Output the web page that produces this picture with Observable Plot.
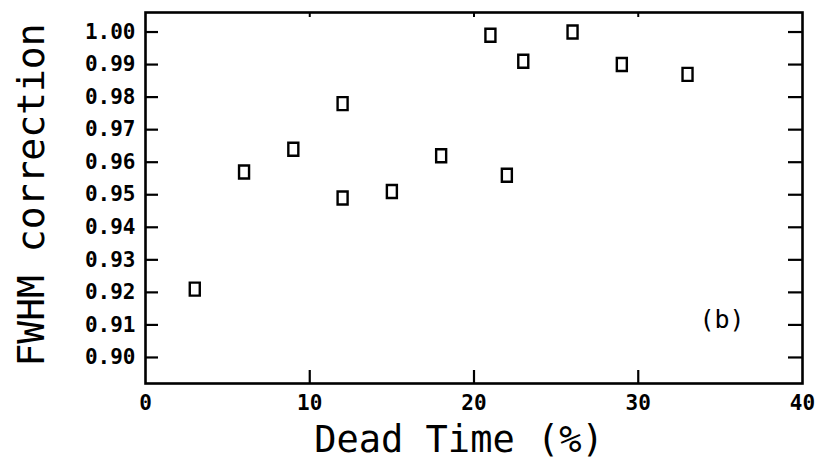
<!DOCTYPE html>
<html>
<head>
<meta charset="utf-8">
<script src="https://cdn.jsdelivr.net/npm/d3@7"></script>
<script src="https://cdn.jsdelivr.net/npm/@observablehq/plot@0.6"></script>
<style>
  html, body { margin: 0; padding: 0; background: #fff; }
  #chart svg { display: block; }
</style>
</head>
<body>
<div id="chart"></div>
<script>
// Data
const deadTime   = [3, 6, 9, 12, 12, 15, 18, 21, 22, 23, 26, 29, 33];
const correction = [0.921, 0.957, 0.964, 0.978, 0.949, 0.951, 0.962, 0.999, 0.956, 0.991, 1.000, 0.990, 0.987];
const xTicks = [0, 10, 20, 30, 40];
const yTicks = [0.90, 0.91, 0.92, 0.93, 0.94, 0.95, 0.96, 0.97, 0.98, 0.99, 1.00];
const xTitle = "Dead Time (%)";
const yTitle = "FWHM correction";
const panelLabel = "(b)";

const points = deadTime.map((x, i) => ({x, y: correction[i]}));

const W = 821, H = 460;
const mL = 145, mR = 19, mT = 12, mB = 77;
const pw = W - mL - mR, ph = H - mT - mB;
const font = "DejaVu Sans Mono";

const rectSymbol = {
  draw(context) {
    context.rect(-5, -6.5, 10, 13);
  }
};

const chart = Plot.plot({
  width: W,
  height: H,
  marginLeft: mL,
  marginRight: mR,
  marginTop: mT,
  marginBottom: mB,
  style: {fontFamily: font, background: "#fff", color: "#000"},
  x: {domain: [0, 40], axis: null},
  y: {domain: [0.892, 1.006], axis: null},
  marks: [
    // inward ticks
    Plot.ruleX(xTicks.slice(1, -1), {x: d => d, stroke: "#000", strokeWidth: 2.2, insetTop: ph - 13}),
    Plot.ruleX(xTicks.slice(1, -1), {x: d => d, stroke: "#000", strokeWidth: 2, insetBottom: ph - 5}),
    Plot.ruleY(yTicks, {y: d => d, stroke: "#000", strokeWidth: 2.2, insetRight: pw - 13}),
    Plot.ruleY(yTicks, {y: d => d, stroke: "#000", strokeWidth: 2.2, insetLeft: pw - 14}),
    Plot.frame({stroke: "#000", strokeWidth: 2.6}),
    // tick labels
    Plot.text(xTicks, {x: d => d, frameAnchor: "bottom", lineAnchor: "top", dy: 12, text: d => String(d), fontSize: 21, fontWeight: "bold", fill: "#000"}),
    Plot.text(yTicks, {y: d => d, frameAnchor: "left", textAnchor: "end", dx: -10, text: d => d.toFixed(2), fontSize: 21, fontWeight: "bold", fill: "#000"}),
    // data
    Plot.dot(points, {x: "x", y: "y", symbol: rectSymbol, stroke: "#000", strokeWidth: 2.4, fill: "none"}),
    // panel label
    Plot.text([panelLabel], {x: 35.1, y: 0.9116, text: d => d, fontSize: 25, fill: "#000"}),
    // axis titles
    Plot.text([xTitle], {frameAnchor: "bottom", textAnchor: "middle", lineAnchor: "middle", dy: 57, dx: -15, text: d => d, fontSize: 37, fill: "#000"}),
    Plot.text([yTitle], {frameAnchor: "left", textAnchor: "middle", lineAnchor: "middle", rotate: -90, dx: -114, dy: -3, text: d => d, fontSize: 38, fill: "#000"})
  ]
});
document.getElementById("chart").appendChild(chart);
</script>
</body>
</html>
